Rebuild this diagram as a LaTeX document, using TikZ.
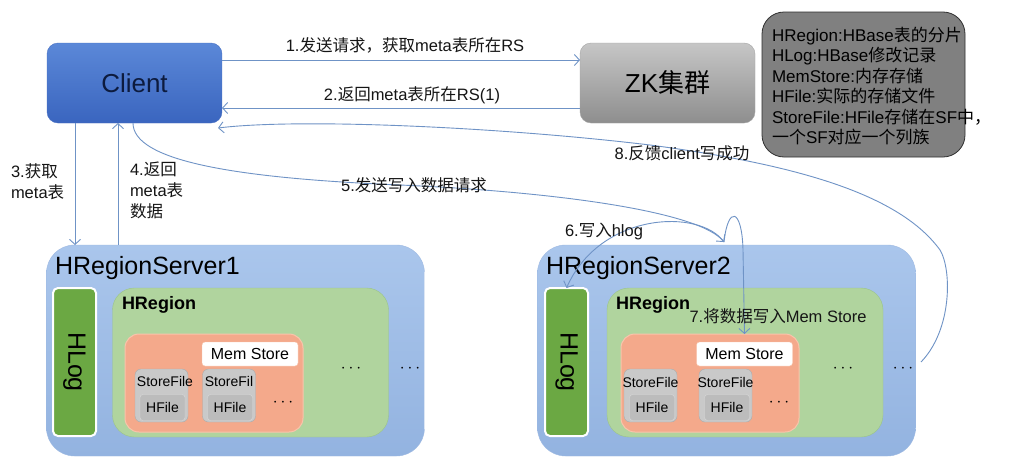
\documentclass[tikz,border=0pt]{standalone}
\usepackage{fontspec}
\setmainfont{Liberation Sans}
\newfontfamily\cjk{Noto Sans CJK SC}
\newcommand{\zh}[1]{{\cjk #1}}
\usetikzlibrary{arrows.meta}
\definecolor{arr}{HTML}{6F93C6}
\definecolor{clTop}{HTML}{5B88D8}
\definecolor{clBot}{HTML}{3A65BF}
\definecolor{clDraw}{HTML}{4A72C4}
\definecolor{clText}{HTML}{0D1B3E}
\definecolor{zkTop}{HTML}{C6C6C6}
\definecolor{zkBot}{HTML}{8E8E8E}
\definecolor{legFill}{HTML}{808080}
\definecolor{legDraw}{HTML}{303030}
\definecolor{srvTop}{HTML}{AAC6EC}
\definecolor{srvBot}{HTML}{93B3E0}
\definecolor{srvDraw}{HTML}{9DB9E2}
\definecolor{hlogFill}{HTML}{6BA843}
\definecolor{regFill}{HTML}{B0D49E}
\definecolor{regDraw}{HTML}{9BC489}
\definecolor{orFill}{HTML}{F4A98B}
\definecolor{orDraw}{HTML}{F9C4AB}
\definecolor{sfFill}{HTML}{C9C9C9}
\definecolor{sfDraw}{HTML}{ABABAB}
\definecolor{hfFill}{HTML}{BCBCBC}
\definecolor{hfDraw}{HTML}{D9D9D9}
\definecolor{txt}{HTML}{151515}
\begin{document}
\begin{tikzpicture}[x=1pt,y=-1pt,
  base/.style={outer sep=0pt, inner sep=0pt},
  lbl/.style={base, text=txt, font=\fontsize{16.5}{21}\selectfont, align=left},
  conn/.style={draw=arr, line width=0.9pt, -{Straight Barb[length=5pt,width=11pt]}},
  clientbox/.style={base, draw=clDraw, top color=clTop, bottom color=clBot, rounded corners=11pt,
     minimum width=175pt, minimum height=80pt, text=clText, font=\fontsize{26}{30}\selectfont},
  zkbox/.style={base, draw=zkBot!80, top color=zkTop, bottom color=zkBot, rounded corners=11pt,
     minimum width=175pt, minimum height=80pt, text=black, font=\fontsize{26}{30}\selectfont},
  legbox/.style={base, draw=legDraw, line width=0.8pt, fill=legFill, rounded corners=22pt,
     minimum width=203pt, minimum height=145pt},
  srvbox/.style={base, draw=srvDraw, top color=srvTop, bottom color=srvBot, rounded corners=28pt,
     minimum width=378pt, minimum height=211pt},
  srvtitle/.style={base, text=black, font=\fontsize{25}{28}\selectfont, anchor=west},
  hlogbox/.style={base, draw=white, line width=2pt, fill=hlogFill, rounded corners=5pt,
     minimum width=43pt, minimum height=148pt},
  hlogtext/.style={base, rotate=-90, text=black, font=\fontsize{25}{28}\selectfont},
  regbox/.style={base, draw=regDraw, fill=regFill, rounded corners=22pt,
     minimum width=276pt, minimum height=149pt},
  regtitle/.style={base, text=black, font=\bfseries\fontsize{18}{21}\selectfont, anchor=west},
  orbox/.style={base, draw=orDraw, line width=1pt, fill=orFill, rounded corners=14pt,
     minimum width=178pt, minimum height=98pt},
  membox/.style={base, draw=orDraw, fill=white, rounded corners=3pt,
     minimum width=96pt, minimum height=24pt, text=black, font=\fontsize{16}{18}\selectfont},
  sfbox/.style={base, draw=sfDraw, fill=sfFill, rounded corners=6pt,
     minimum width=53pt, minimum height=53pt},
  sftext/.style={base, text=black, font=\fontsize{14}{16}\selectfont},
  hfbox/.style={base, draw=hfDraw, fill=hfFill, rounded corners=3pt,
     minimum width=45pt, minimum height=26pt, text=black, font=\fontsize{14}{16}\selectfont},
  dots/.style={base, text=black, font=\fontsize{18}{18}\selectfont}
]
\useasboundingbox (0,0) rectangle (1024,474);
\fill[white] (0,0) rectangle (1024,474);

% top row
\node[clientbox] (client) at (134.5,83) {Client};
\node[zkbox] (zk) at (667.5,83) {ZK\zh{集群}};
\node[legbox] (legend) at (863.5,84.5) {};
\node[base, anchor=west, text=black, align=left, font=\fontsize{17}{20.5}\selectfont] (legtext) at (772,86)
  {HRegion:HBase\zh{表的分片}\\
   HLog:HBase\zh{修改记录}\\
   MemStore:\zh{内存存储}\\
   HFile:\zh{实际的存储文件}\\
   StoreFile:HFile\zh{存储在}SF\zh{中，}\\
   \zh{一个}SF\zh{对应一个列族}};

% server 1
\node[srvbox] (srv1) at (235.5,350.5) {};
\node[srvtitle] (srv1t) at (55,268) {HRegionServer1};
\node[hlogbox] (hlog1) at (74.5,362) {};
\node[hlogtext] (hlog1t) at (hlog1.center) {HLog};
\node[regbox] (reg1) at (250.5,362.5) {};
\node[regtitle] (reg1t) at (122,305) {HRegion};
\node[orbox] (or1) at (214,383) {};
\node[membox] (mem1) at (250,354) {Mem Store};
\node[sfbox] (sf1a) at (161.5,395.5) {};
\node[sftext] (sf1at) at (165,381) {StoreFile};
\node[hfbox] (hf1a) at (162.5,407.5) {HFile};
\node[sfbox] (sf1b) at (229,395.5) {};
\node[sftext] (sf1bt) at (229,381) {StoreFil};
\node[hfbox] (hf1b) at (230,407.5) {HFile};
\node[dots] (d1a) at (283,403) {$\cdots$};
\node[dots] (d1b) at (351,369) {$\cdots$};
\node[dots] (d1c) at (410,369) {$\cdots$};

% server 2
\node[srvbox] (srv2) at (726.5,350.5) {};
\node[srvtitle] (srv2t) at (546,268) {HRegionServer2};
\node[hlogbox] (hlog2) at (566.5,362) {};
\node[hlogtext] (hlog2t) at (hlog2.center) {HLog};
\node[regbox] (reg2) at (745,362.5) {};
\node[regtitle] (reg2t) at (616,305) {HRegion};
\node[orbox] (or2) at (710,383) {};
\node[membox] (mem2) at (744.5,354) {Mem Store};
\node[sfbox] (sf2a) at (650.5,395.5) {};
\node[sftext] (sf2at) at (650.5,382) {StoreFile};
\node[hfbox] (hf2a) at (652,407.5) {HFile};
\node[sfbox] (sf2b) at (725.5,395.5) {};
\node[sftext] (sf2bt) at (725.5,382) {StoreFile};
\node[hfbox] (hf2b) at (727,407.5) {HFile};
\node[dots] (d2a) at (779,403) {$\cdots$};
\node[dots] (d2b) at (843,369) {$\cdots$};
\node[dots] (d2c) at (903,369) {$\cdots$};

% connectors
\draw[conn] (client.east |- 0,60) -- (zk.west |- 0,60);
\draw[conn] (zk.west |- 0,108) -- (client.east |- 0,108);
\draw[conn] (client.south -| 75,0) -- (srv1.north -| 75,0);
\draw[conn] (srv1.north -| 118,0) -- (client.south -| 118,0);

\coordinate (hub) at (724,242);
\coordinate (s8) at (921,362);
\draw[conn] (client.south -| 133,0) .. controls (133,160) and (230,178) .. (400,185)
   .. controls (560,192) and (700,212) .. (hub);
\draw[conn] (hub) .. controls (700,208) and (600,212) .. (hlog2.north);
\draw[conn] (hub) .. controls (728,205) and (742,208) .. (743,250) -- (or2.north -| mem2.north);
\draw[conn] (s8) .. controls (952,330) and (952,270) .. (940,250)
   .. controls (900,195) and (800,165) .. (650,145)
   .. controls (500,127) and (300,118) .. ([xshift=-4pt,yshift=-5pt]client.south east);

% labels
\node[lbl] (l1) at (405,45) {1.\zh{发送请求，获取}meta\zh{表所在}RS};
\node[lbl] (l2) at (412,95) {2.\zh{返回}meta\zh{表所在}RS(1)};
\node[lbl, anchor=west] (l3) at (11,182) {3.\zh{获取}\\meta\zh{表}};
\node[lbl, anchor=west] (l4) at (130,190) {4.\zh{返回}\\meta\zh{表}\\\zh{数据}};
\node[lbl] (l5) at (414,185) {5.\zh{发送写入数据请求}};
\node[lbl] (l6) at (604,231) {6.\zh{写入}hlog};
\node[lbl] (l7) at (778,316) {7.\zh{将数据写入}Mem Store};
\node[lbl] (l8) at (682,153) {8.\zh{反馈}client\zh{写成功}};
\end{tikzpicture}
\end{document}
